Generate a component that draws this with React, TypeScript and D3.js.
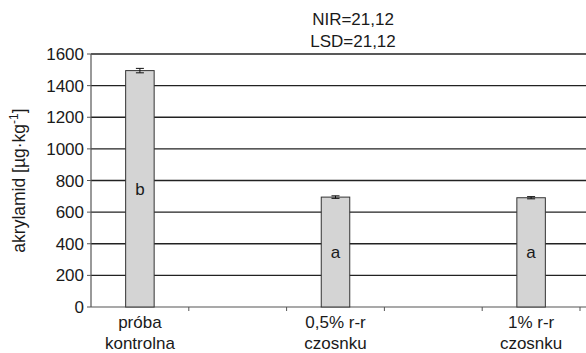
import { useEffect, useRef } from 'react'
import * as d3 from 'd3'

// three treatments, drawn in slots 0, 2 and 4 of a five-slot axis
const categories = [['próba', 'kontrolna'], ['0,5% r-r', 'czosnku'], ['1% r-r', 'czosnku']]
const slots = [0, 2, 4]
const values = [1495, 695, 691]
const errors = [14, 8, 7]
const groups = ['b', 'a', 'a']
const yTicks = [0, 200, 400, 600, 800, 1000, 1200, 1400, 1600]
const titleLines = ['NIR=21,12', 'LSD=21,12']

const W = 586
const H = 353

export default function App() {
  const svgRef = useRef<SVGSVGElement>(null)

  useEffect(() => {
    const svg = d3.select(svgRef.current)
    svg.selectAll('*').remove()

    const margin = { top: 54, right: 6, bottom: 46, left: 91 }
    const font = 'Liberation Sans, Arial, sans-serif'

    const x = d3.scaleBand<number>()
      .domain(d3.range(5))
      .range([margin.left, 580])
      .padding(0)

    const y = d3.scaleLinear()
      .domain([0, 1600])
      .range([H - margin.bottom, margin.top])

    // grid lines
    yTicks.filter(t => t > 0).forEach(t => {
      svg.append('line')
        .attr('x1', margin.left).attr('x2', W)
        .attr('y1', y(t)).attr('y2', y(t))
        .attr('stroke', '#222')
        .attr('stroke-width', 1.3)
    })

    // y axis
    svg.append('line')
      .attr('x1', margin.left).attr('x2', margin.left)
      .attr('y1', y(0)).attr('y2', y(1600))
      .attr('stroke', '#555')
      .attr('stroke-width', 1.2)
    yTicks.forEach(t => {
      svg.append('line')
        .attr('x1', margin.left - 4).attr('x2', margin.left)
        .attr('y1', y(t)).attr('y2', y(t))
        .attr('stroke', '#555')
      svg.append('text')
        .attr('x', margin.left - 7)
        .attr('y', y(t) + 6)
        .attr('text-anchor', 'end')
        .attr('font-family', font)
        .attr('font-size', 17)
        .attr('fill', '#1a1a1a')
        .text(t)
    })

    // x axis
    svg.append('line')
      .attr('x1', margin.left).attr('x2', W)
      .attr('y1', y(0)).attr('y2', y(0))
      .attr('stroke', '#555')
      .attr('stroke-width', 1.2)
    d3.range(1, 6).forEach(i => {
      const tx = (x(i) ?? 580)
      svg.append('line')
        .attr('x1', tx).attr('x2', tx)
        .attr('y1', y(0)).attr('y2', y(0) + 4)
        .attr('stroke', '#555')
    })

    // bars
    const bw = 28.5
    values.forEach((v, i) => {
      const cx = (x(slots[i]) as number) + x.bandwidth() / 2
      svg.append('rect')
        .attr('x', cx - bw / 2)
        .attr('y', y(v))
        .attr('width', bw)
        .attr('height', y(0) - y(v))
        .attr('fill', '#d4d4d4')
        .attr('stroke', '#333')
        .attr('stroke-width', 1)

      // error bar
      const e = errors[i]
      svg.append('line')
        .attr('x1', cx).attr('x2', cx)
        .attr('y1', y(v + e)).attr('y2', y(v - e))
        .attr('stroke', '#111')
      ;[v + e, v - e].forEach(ev => {
        svg.append('line')
          .attr('x1', cx - 4).attr('x2', cx + 4)
          .attr('y1', y(ev)).attr('y2', y(ev))
          .attr('stroke', '#111')
      })

      // group letter
      svg.append('text')
        .attr('x', cx)
        .attr('y', (y(v) + y(0)) / 2 + 6)
        .attr('text-anchor', 'middle')
        .attr('font-family', font)
        .attr('font-size', 17)
        .attr('fill', '#1a1a1a')
        .text(groups[i])

      // category label
      categories[i].forEach((line, j) => {
        svg.append('text')
          .attr('x', cx)
          .attr('y', y(0) + 21 + j * 21)
          .attr('text-anchor', 'middle')
          .attr('font-family', font)
          .attr('font-size', 17)
          .attr('fill', '#1a1a1a')
          .text(line)
      })
    })

    // title
    titleLines.forEach((line, j) => {
      svg.append('text')
        .attr('x', 353)
        .attr('y', 25 + j * 22)
        .attr('text-anchor', 'middle')
        .attr('font-family', font)
        .attr('font-size', 17)
        .attr('fill', '#1a1a1a')
        .text(line)
    })

    // y axis title
    const yt = svg.append('text')
      .attr('transform', `translate(25,${(y(0) + y(1600)) / 2}) rotate(-90)`)
      .attr('text-anchor', 'middle')
      .attr('font-family', font)
      .attr('font-size', 17.5)
      .attr('fill', '#1a1a1a')
    yt.append('tspan').text('akrylamid [µg·kg')
    yt.append('tspan').attr('dy', -7).attr('font-size', 12).text('-1')
    yt.append('tspan').attr('dy', 7).text(']')
  }, [])

  return (
    <div style={{ position: 'absolute', left: 0, top: 0, background: '#fff' }}>
      <svg ref={svgRef} width={W} height={H} style={{ display: 'block' }} />
    </div>
  )
}
